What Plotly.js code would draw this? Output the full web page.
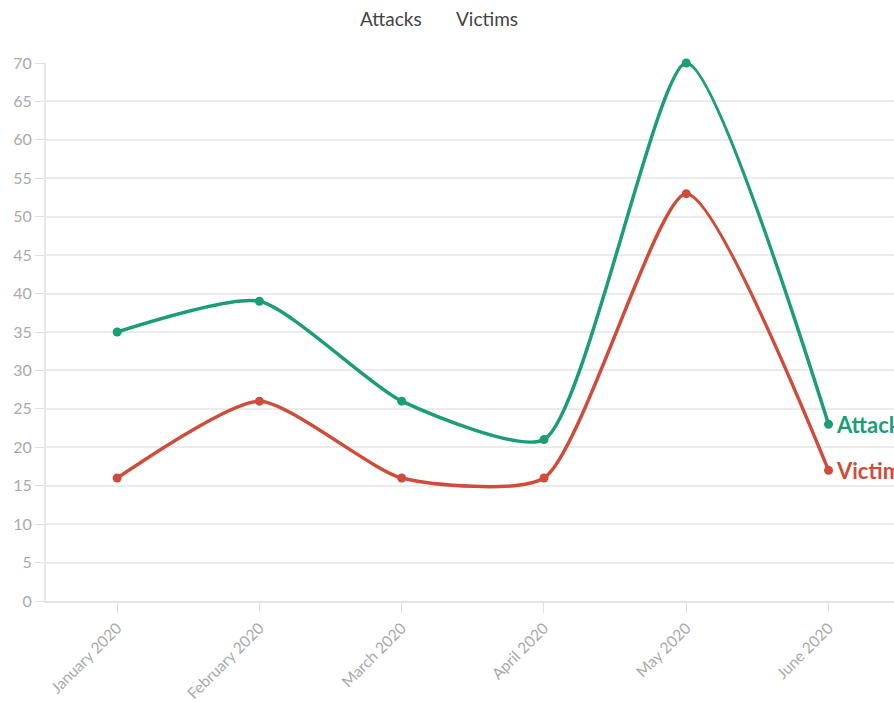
<!DOCTYPE html>
<html>
<head>
<meta charset="utf-8">
<script src="https://cdn.plot.ly/plotly-3.0.1.min.js"></script>
<style>html,body{margin:0;padding:0;background:#fff;}#chart{width:894px;height:702px;}</style>
</head>
<body>
<div id="chart"></div>
<script>
const months = ["January 2020", "February 2020", "March 2020", "April 2020", "May 2020", "June 2020"];
const attacks = [35, 39, 26, 21, 70, 23];
const victims = [16, 26, 16, 16, 53, 17];
const seriesNames = ["Attacks", "Victims"];
const yTicks = [0, 5, 10, 15, 20, 25, 30, 35, 40, 45, 50, 55, 60, 65, 70];

const green = "#1b9e77";
const red = "#cf4c3b";
const font = "Lato, 'Source Sans Pro', 'Noto Sans', sans-serif";

const traces = [
  {x: months, y: attacks, name: seriesNames[0], mode: "lines+markers", type: "scatter", cliponaxis: false,
   line: {color: green, width: 3.5, shape: "spline", smoothing: 0.6}, marker: {color: green, size: 9}},
  {x: months, y: victims, name: seriesNames[1], mode: "lines+markers", type: "scatter", cliponaxis: false,
   line: {color: red, width: 3.5, shape: "spline", smoothing: 0.6}, marker: {color: red, size: 9}}
];

const layout = {
  width: 894, height: 702,
  margin: {l: 46, r: 0, t: 63, b: 101},
  showlegend: false,
  paper_bgcolor: "#fff", plot_bgcolor: "#fff",
  font: {family: font, color: "#aaa", size: 16},
  xaxis: {
    type: "category", range: [-0.5, 5.46], tickangle: -45,
    showgrid: false, showline: true, linecolor: "#e4e4e4", linewidth: 2,
    ticks: "outside", ticklen: 10, tickcolor: "#e0e0e0", tickwidth: 1,
    tickfont: {size: 15.5, color: "#aaa"}, zeroline: false
  },
  yaxis: {
    range: [0, 70], tickvals: yTicks, ticktext: yTicks.map(String),
    showgrid: true, gridcolor: "#ebebeb", gridwidth: 2,
    showline: true, linecolor: "#e8e8e8", linewidth: 2,
    ticks: "outside", ticklen: 9, tickcolor: "#e0e0e0", tickwidth: 1,
    tickfont: {size: 16, color: "#aaa"}, zeroline: false
  },
  annotations: [
    {xref: "paper", yref: "paper", x: (391-46)/848, y: 1 + (63-18)/538, text: seriesNames[0], showarrow: false,
     xanchor: "center", yanchor: "middle", font: {family: font, size: 19, color: "#444"}},
    {xref: "paper", yref: "paper", x: (487-46)/848, y: 1 + (63-18)/538, text: seriesNames[1], showarrow: false,
     xanchor: "center", yanchor: "middle", font: {family: font, size: 19, color: "#444"}},
    {x: months[5], y: attacks[5], text: "<b>" + seriesNames[0] + "</b>", showarrow: false, xanchor: "left", xshift: 5,
     yanchor: "middle", font: {family: font, size: 22, color: green}},
    {x: months[5], y: victims[5], text: "<b>" + seriesNames[1] + "</b>", showarrow: false, xanchor: "left", xshift: 5,
     yanchor: "middle", font: {family: font, size: 22, color: red}}
  ]
};

Plotly.newPlot("chart", traces, layout, {displayModeBar: false, staticPlot: true});
</script>
</body>
</html>
